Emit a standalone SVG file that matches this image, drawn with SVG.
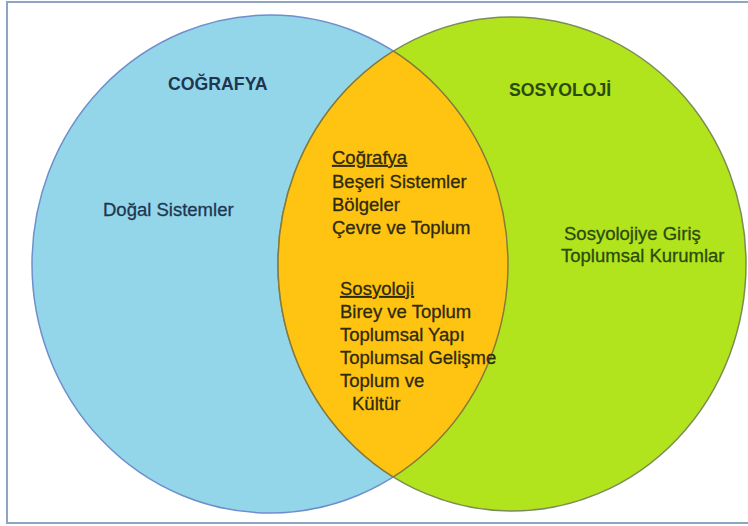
<svg xmlns="http://www.w3.org/2000/svg" width="748" height="526" viewBox="0 0 748 526">
  <style>
    .t { font-family: "Liberation Sans", Arial, sans-serif; font-size: 18.5px; stroke-width: 0.3px; }
    .title { font-family: "Liberation Sans", Arial, sans-serif; font-size: 17.7px; font-weight: bold; }
    .blueTxt { fill: #1f3650; stroke: #1f3650; }
    .greenTxt { fill: #2b4a0e; stroke: #2b4a0e; }
    .midTxt { fill: #2e2a10; stroke: #2e2a10; }
    .title.blueTxt, .title.greenTxt { stroke: none; }
  </style>
  <defs>
    <clipPath id="clipBlue"><ellipse cx="270" cy="264" rx="238" ry="249"/></clipPath>
    <clipPath id="clipGreen"><ellipse cx="512" cy="264" rx="234" ry="247"/></clipPath>
  </defs>
  <rect x="0" y="0" width="748" height="526" fill="#ffffff"/>
  <rect x="7" y="2" width="745" height="521" fill="none" stroke="#8ea5c2" stroke-width="2"/>

  <g id="cografya">
    <ellipse cx="270" cy="264" rx="238" ry="249" fill="#93d5e9" stroke="#6f8fcc" stroke-width="1.5"/>
  </g>
  <g id="sosyoloji">
    <ellipse cx="512" cy="264" rx="234" ry="247" fill="#b1e41c" stroke="#7c8c58" stroke-width="1.5"/>
  </g>
  <g id="ortak">
    <ellipse cx="512" cy="264" rx="234" ry="247" fill="#ffc412" clip-path="url(#clipBlue)"/>
    <ellipse cx="512" cy="264" rx="234" ry="247" fill="none" stroke="#857a3c" stroke-width="1.5" clip-path="url(#clipBlue)"/>
    <ellipse cx="270" cy="264" rx="238" ry="249" fill="none" stroke="#857a3c" stroke-width="1.5" clip-path="url(#clipGreen)"/>
  </g>

  <g id="labels-cografya">
    <text class="title blueTxt" x="168" y="90">COĞRAFYA</text>
    <text class="t blueTxt" x="103" y="216">Doğal Sistemler</text>
  </g>
  <g id="labels-sosyoloji">
    <text class="title greenTxt" x="509" y="96">SOSYOLOJİ</text>
    <text class="t greenTxt" x="564" y="240">Sosyolojiye Giriş</text>
    <text class="t greenTxt" x="561" y="262">Toplumsal Kurumlar</text>
  </g>
  <g id="labels-ortak">
    <text class="t midTxt" x="332" y="164" text-decoration="underline">Coğrafya</text>
    <text class="t midTxt" x="332" y="188">Beşeri Sistemler</text>
    <text class="t midTxt" x="332" y="211">Bölgeler</text>
    <text class="t midTxt" x="332" y="234">Çevre ve Toplum</text>
    <text class="t midTxt" x="340" y="295" text-decoration="underline">Sosyoloji</text>
    <text class="t midTxt" x="340" y="318">Birey ve Toplum</text>
    <text class="t midTxt" x="340" y="341">Toplumsal Yapı</text>
    <text class="t midTxt" x="340" y="364">Toplumsal Gelişme</text>
    <text class="t midTxt" x="340" y="387">Toplum ve</text>
    <text class="t midTxt" x="352" y="410">Kültür</text>
  </g>
</svg>
